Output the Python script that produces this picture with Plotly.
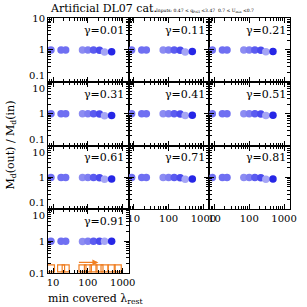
import math
import plotly.graph_objects as go
from plotly.subplots import make_subplots

gammas = ["0.01", "0.11", "0.21", "0.31", "0.41", "0.51", "0.61", "0.71", "0.81", "0.91"]
lam_min = [8.7, 17, 23, 70, 100, 145, 215, 300, 480]
point_colors = ["#6f6ff2", "#6f6ff2", "#6f6ff2", "#8c8cf2", "#7e7ef2",
                "#5b5bf0", "#4a4aee", "#a5a5f5", "#2626e6"]
ratios = [
    [1.0, 1.0, 1.0, 1.0, 1.0, 1.0, 0.97, 0.85, 0.88],
    [1.0, 1.0, 1.0, 1.0, 1.0, 1.0, 0.98, 0.86, 0.89],
    [1.0, 1.0, 1.0, 1.0, 1.0, 1.0, 0.98, 0.87, 0.89],
    [1.0, 1.0, 1.0, 1.0, 1.0, 1.0, 0.98, 0.86, 0.88],
    [1.0, 1.0, 1.0, 1.0, 1.0, 1.0, 0.98, 0.87, 0.89],
    [1.0, 1.0, 1.0, 1.0, 1.0, 1.0, 0.98, 0.87, 0.89],
    [1.0, 1.0, 1.0, 1.0, 1.0, 1.0, 0.98, 0.88, 0.89],
    [1.0, 1.0, 1.0, 1.0, 1.0, 1.0, 0.98, 0.88, 0.89],
    [1.0, 1.0, 1.0, 1.0, 1.0, 1.0, 0.98, 0.88, 0.89],
    [1.0, 1.0, 1.0, 0.98, 1.0, 1.0, 1.0, 1.0, 1.0],
]
limit_x = [8.7, 17, 23, 70, 100, 145, 215, 300, 480, 720]
limit_y = [0.14] * 10
arrow_x = [50, 200]
arrow_y = 0.215

FONT = "DejaVu Serif"
fig = make_subplots(rows=4, cols=3, horizontal_spacing=0, vertical_spacing=0)

for i, g in enumerate(gammas):
    r, c = i // 3 + 1, i % 3 + 1
    fig.add_trace(go.Scatter(x=lam_min, y=ratios[i], mode="markers",
                             marker=dict(size=7.5, color=point_colors, line=dict(width=0)),
                             showlegend=False, hoverinfo="skip"), row=r, col=c)
    fig.add_annotation(text="γ=" + g, xref="x domain" if i == 0 else f"x{i+1} domain",
                       yref="y domain" if i == 0 else f"y{i+1} domain",
                       x=0.97, y=0.94, xanchor="right", yanchor="top", showarrow=False,
                       font=dict(family=FONT, size=11, color="black"))

fig.add_trace(go.Scatter(x=limit_x, y=limit_y, mode="markers",
                         marker=dict(symbol="square-open", size=7, color="#f07e20",
                                     line=dict(width=1.2)),
                         showlegend=False, hoverinfo="skip"), row=4, col=1)
fig.add_annotation(x=math.log10(arrow_x[1]), y=math.log10(arrow_y),
                   ax=math.log10(arrow_x[0]), ay=math.log10(arrow_y),
                   xref="x10", yref="y10", axref="x10", ayref="y10",
                   showarrow=True, arrowhead=2, arrowsize=1, arrowwidth=1.2,
                   arrowcolor="#f07e20", text="")

for i in range(12):
    r, c = i // 3 + 1, i % 3 + 1
    visible = i < 10
    xlab = i in (7, 8, 9)
    ylab = c == 1
    top = "10" if r == 1 else "&nbsp;<br>10"
    bot = "0.1" if r == 4 else "0.1<br>&nbsp;"
    fig.update_xaxes(type="log", range=[0.855, 3.17], row=r, col=c, visible=visible,
                     automargin=False,
                     showline=True, linecolor="black", linewidth=1, mirror="allticks",
                     ticks="inside", ticklen=5, tickcolor="black", dtick=1,
                     showgrid=False, zeroline=False, showticklabels=xlab,
                     tickfont=dict(family=FONT, size=10, color="black"),
                     minor=dict(ticks="inside", ticklen=3, tickcolor="black", showgrid=False))
    fig.update_yaxes(type="log", range=[-1, 1], row=r, col=c, visible=visible,
                     automargin=False,
                     showline=True, linecolor="black", linewidth=1, mirror="allticks",
                     ticks="inside", ticklen=5, tickcolor="black",
                     tickvals=[0.1, 1, 10], ticktext=[bot, "1", top],
                     showgrid=False, zeroline=False, showticklabels=ylab,
                     tickfont=dict(family=FONT, size=10, color="black"),
                     minor=dict(ticks="inside", ticklen=3, tickcolor="black", showgrid=False,
                                tickvals=[0.2, 0.3, 0.4, 0.5, 0.6, 0.7, 0.8, 0.9,
                                          2, 3, 4, 5, 6, 7, 8, 9]))

fig.add_annotation(text="Artificial DL07 cat.", xref="paper", yref="paper", x=0.0, y=1.0,
                   xanchor="left", yanchor="bottom", yshift=1, showarrow=False,
                   font=dict(family=FONT, size=11, color="black"))
fig.add_annotation(text="Inputs: 0.47 ≤ q<sub>PAH</sub> ≤3.47  0.7 ≤ U<sub>min</sub> ≤0.7",
                   xref="paper", yref="paper", x=0.44, y=1.0,
                   xanchor="left", yanchor="bottom", yshift=2, showarrow=False,
                   font=dict(family=FONT, size=4.5, color="black"))
fig.add_annotation(text="M<sub>d</sub>(out) / M<sub>d</sub>(in)", xref="paper", yref="paper",
                   x=-0.157, y=0.5, xanchor="center", yanchor="middle", textangle=-90,
                   showarrow=False, font=dict(family=FONT, size=11, color="black"))
fig.add_annotation(text="min covered λ<sub>rest</sub>", xref="paper", yref="paper",
                   x=0.195, y=0, xanchor="center", yanchor="top", yshift=-17,
                   showarrow=False, font=dict(family=FONT, size=11, color="black"))

fig.update_layout(width=307, height=307, margin=dict(l=48, r=17, t=18, b=34),
                  paper_bgcolor="white", plot_bgcolor="white", hovermode=False)
fig.write_html("out.html", config={"displayModeBar": False, "staticPlot": True},
               post_script="document.body.style.margin='0';document.body.style.padding='0';")
